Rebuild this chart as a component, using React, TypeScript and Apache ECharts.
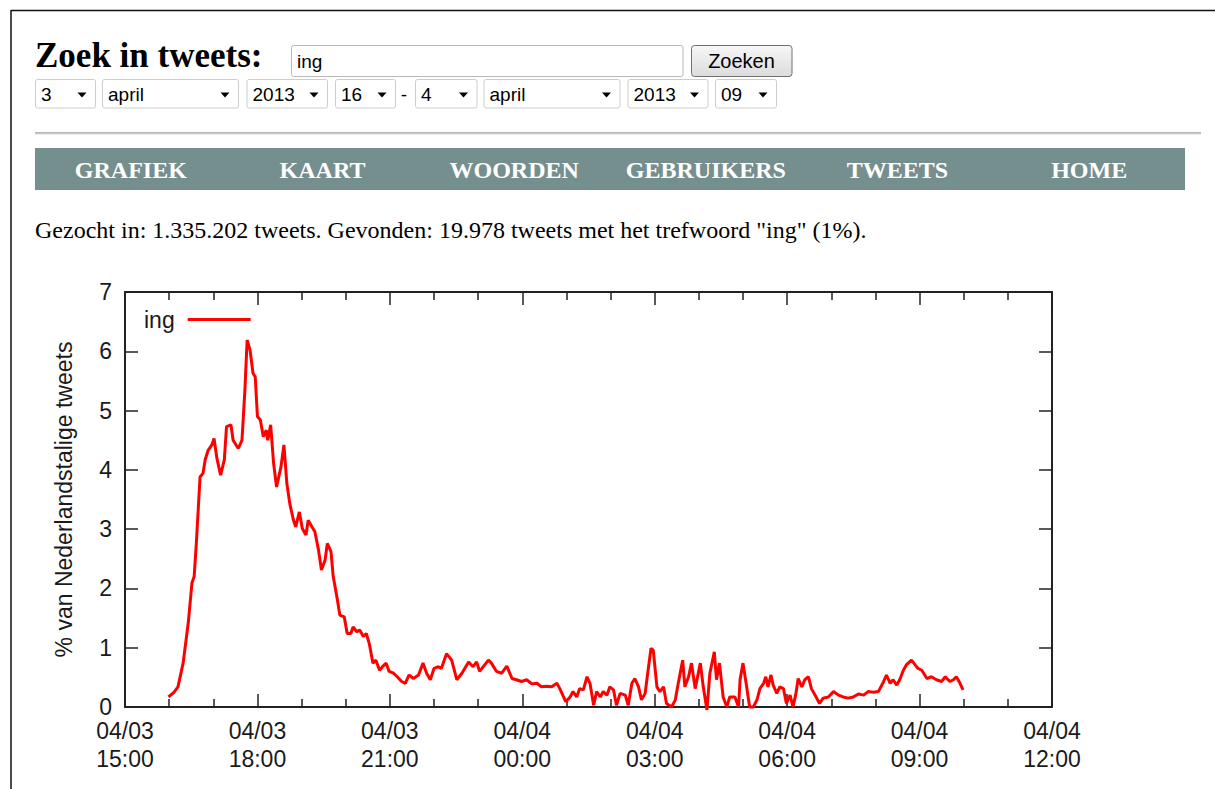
import React, { useEffect, useRef } from "react";
import * as echarts from "echarts";

// ---- data ----
const seriesName = "ing";
const times = [
  "15:59","16:06","16:12","16:19","16:26","16:31","16:34","16:37","16:42","16:46","16:49","16:53","16:58","17:01","17:05","17:10","17:15","17:18","17:24","17:27","17:34","17:39","17:43","17:46","17:50","17:54","17:57","18:00","18:04","18:08","18:12","18:14","18:18","18:22","18:26","18:32","18:36","18:40","18:44","18:49","18:52","18:57","19:01","19:06","19:09","19:14","19:18","19:23","19:27","19:32","19:35","19:40","19:43","19:48","19:52","19:58","20:02","20:07","20:10","20:15","20:19","20:24","20:28","20:32","20:37","20:41","20:46","20:50","20:55","20:59","21:05","21:10","21:16","21:21","21:26","21:32","21:39","21:45","21:50","21:55","22:00","22:06","22:10","22:17","22:24","22:31","22:38","22:47","22:53","22:58","23:02","23:07","23:14","23:18","23:25","23:32","23:39","23:46","23:52","23:59","00:06","00:13","00:20","00:26","00:33","00:40","00:47","00:51","00:59","01:05","01:09","01:14","01:18","01:23","01:28","01:32","01:37","01:41","01:46","01:50","01:55","01:59","02:04","02:08","02:13","02:20","02:24","02:29","02:33","02:38","02:42","02:47","02:51","02:55","02:58","03:03","03:07","03:12","03:16","03:23","03:28","03:32","03:38","03:41","03:46","03:50","03:55","04:02","04:06","04:11","04:15","04:21","04:24","04:28","04:33","04:38","04:42","04:49","04:54","04:56","05:00","05:05","05:09","05:14","05:19","05:23","05:28","05:31","05:34","05:38","05:41","05:46","05:50","05:55","05:59","06:04","06:08","06:12","06:15","06:20","06:24","06:29","06:33","06:38","06:44","06:49","06:56","07:03","07:10","07:16","07:23","07:30","07:37","07:44","07:50","07:57","08:04","08:10","08:15","08:20","08:24","08:29","08:33","08:38","08:42","08:49","08:54","08:58","09:03","09:10","09:16","09:23","09:30","09:35","09:41","09:46","09:50","09:55","09:59"
];
const values = [
  0.17,0.24,0.34,0.74,1.42,2.09,2.20,2.77,3.88,3.94,4.17,4.33,4.42,4.53,4.19,3.91,4.17,4.73,4.76,4.50,4.36,4.50,5.35,6.19,6.02,5.63,5.57,4.90,4.84,4.56,4.67,4.50,4.76,4.11,3.71,4.05,4.42,3.77,3.43,3.15,3.04,3.29,3.01,2.90,3.15,3.04,2.96,2.65,2.31,2.48,2.76,2.62,2.20,1.86,1.55,1.52,1.24,1.24,1.35,1.27,1.30,1.19,1.24,1.07,0.74,0.79,0.62,0.68,0.74,0.60,0.57,0.51,0.43,0.40,0.54,0.48,0.54,0.74,0.57,0.46,0.65,0.68,0.65,0.90,0.79,0.46,0.57,0.76,0.68,0.76,0.60,0.68,0.79,0.74,0.60,0.57,0.69,0.48,0.46,0.43,0.46,0.39,0.40,0.34,0.35,0.34,0.40,0.31,0.09,0.17,0.26,0.17,0.31,0.29,0.51,0.40,0.03,0.26,0.17,0.26,0.20,0.34,0.29,0.03,0.23,0.20,0.03,0.40,0.48,0.34,0.12,0.23,0.62,0.99,0.96,0.34,0.26,0.34,0.06,0.00,0.12,0.40,0.79,0.34,0.51,0.74,0.31,0.74,0.34,-0.05,0.57,0.93,0.46,0.74,0.17,0.00,0.17,0.17,0.00,0.46,0.74,0.34,0.00,0.00,0.12,0.31,0.40,0.51,0.34,0.54,0.37,0.23,0.34,0.31,0.06,0.20,0.00,0.23,0.48,0.34,0.46,0.51,0.31,0.20,0.06,0.15,0.17,0.26,0.20,0.17,0.15,0.17,0.22,0.20,0.26,0.25,0.26,0.40,0.54,0.40,0.46,0.37,0.46,0.62,0.71,0.79,0.71,0.65,0.62,0.48,0.51,0.46,0.43,0.51,0.43,0.46,0.51,0.40,0.29
];
const xTickLabels = [
  "04/03\n15:00", "04/03\n18:00", "04/03\n21:00", "04/04\n00:00",
  "04/04\n03:00", "04/04\n06:00", "04/04\n09:00", "04/04\n12:00",
];
const yAxisTitle = "% van Nederlandstalige tweets";
const pageTitle = "Zoek in tweets:";
const searchTerm = "ing";
const buttonLabel = "Zoeken";
const dateSelectLabels = ["3", "april", "2013", "16", "4", "april", "2013", "09"];
const navItems = ["GRAFIEK", "KAART", "WOORDEN", "GEBRUIKERS", "TWEETS", "HOME"];
const summaryText =
  'Gezocht in: 1.335.202 tweets. Gevonden: 19.978 tweets met het trefwoord "ing" (1%).';

// minutes since 04/03 15:00
const toMinutes = (t: string) => {
  const [h, m] = t.split(":").map(Number);
  let v = h * 60 + m - 900;
  if (v < 0) v += 1440;
  return v;
};

export default function App() {
  const ref = useRef<HTMLDivElement>(null);

  useEffect(() => {
    if (!ref.current) return;
    const chart = echarts.init(ref.current, null, { renderer: "svg" });

    const n = Math.min(times.length, values.length);
    const data: number[][] = [];
    for (let i = 0; i < n; i++) data.push([toMinutes(times[i]), values[i]]);

    const sans = "Liberation Sans";
    const serif = "Liberation Serif";
    const axisColor = "#222";
    const textColor = "#1a1a1a";

    // header layout (pixel boxes for the form controls)
    const selectBoxes = [
      [35, 95], [102, 238], [246.5, 327], [335, 395],
      [415, 476.5], [483.5, 619.5], [627.5, 707.5], [715, 776],
    ];
    const graphics: any[] = [];
    // page border
    graphics.push({ type: "line", shape: { x1: 11, y1: 10.5, x2: 1215, y2: 10.5 }, style: { stroke: "#111", lineWidth: 1.5 } });
    graphics.push({ type: "line", shape: { x1: 11, y1: 10, x2: 11, y2: 789 }, style: { stroke: "#111", lineWidth: 1.5 } });
    // title
    graphics.push({ type: "text", x: 35, y: 55, style: { text: pageTitle, font: `bold 35px "${serif}"`, fill: "#000", verticalAlign: "middle" } });
    // search input
    graphics.push({ type: "rect", shape: { x: 291.5, y: 45.5, width: 391.5, height: 31, r: 2 }, style: { fill: "#fff", stroke: "#b9b9b9", lineWidth: 1 } });
    graphics.push({ type: "text", x: 297, y: 61, style: { text: searchTerm, font: `19px "${sans}"`, fill: "#000", verticalAlign: "middle" } });
    // button
    graphics.push({
      type: "rect", shape: { x: 691.5, y: 45.5, width: 100.5, height: 31, r: 3 },
      style: {
        fill: new echarts.graphic.LinearGradient(0, 0, 0, 1, [
          { offset: 0, color: "#f7f7f7" }, { offset: 1, color: "#dcdcdc" },
        ]),
        stroke: "#707070", lineWidth: 1,
      },
    });
    graphics.push({ type: "text", x: 741.5, y: 61, style: { text: buttonLabel, font: `20px "${sans}"`, fill: "#000", align: "center", verticalAlign: "middle" } });
    // selects
    selectBoxes.forEach(([l, r], i) => {
      graphics.push({ type: "rect", shape: { x: l + 0.5, y: 79.5, width: r - l, height: 28.5, r: 2 }, style: { fill: "#fff", stroke: "#cdcdcd", lineWidth: 1 } });
      graphics.push({ type: "text", x: l + 6, y: 94, style: { text: dateSelectLabels[i], font: `19px "${sans}"`, fill: "#000", verticalAlign: "middle" } });
      const cx = r - 13;
      graphics.push({ type: "polygon", shape: { points: [[cx - 4.5, 92.5], [cx + 4.5, 92.5], [cx, 97.5]] }, style: { fill: "#000" } });
    });
    graphics.push({ type: "text", x: 404, y: 94, style: { text: "-", font: `19px "${sans}"`, fill: "#000", align: "center", verticalAlign: "middle" } });
    // horizontal rule
    graphics.push({ type: "line", shape: { x1: 35, y1: 133, x2: 1201, y2: 133 }, style: { stroke: "#6f6f6f", lineWidth: 1 } });
    graphics.push({ type: "line", shape: { x1: 35, y1: 134, x2: 1201, y2: 134 }, style: { stroke: "#d8d8d8", lineWidth: 1 } });
    // nav bar
    graphics.push({ type: "rect", shape: { x: 35, y: 148, width: 1150, height: 42 }, style: { fill: "#758f8e" } });
    const cell = 1150 / navItems.length;
    navItems.forEach((t, i) => {
      graphics.push({ type: "text", x: 35 + cell * (i + 0.5), y: 170, style: { text: t, font: `bold 24px "${serif}"`, fill: "#fff", align: "center", verticalAlign: "middle" } });
    });
    // summary line
    graphics.push({ type: "text", x: 35, y: 230, style: { text: summaryText, font: `24px "${serif}"`, fill: "#000", verticalAlign: "middle" } });

    const baseX = {
      type: "value", min: 0, max: 1260, interval: 180,
      axisLine: { show: true, onZero: false, lineStyle: { color: axisColor, width: 2 } },
      axisTick: { show: true, inside: true, length: 13, lineStyle: { color: axisColor, width: 1.5 } },
      minorTick: { show: true, splitNumber: 3, length: 8, lineStyle: { color: axisColor, width: 1.5 } },
      splitLine: { show: false },
    };
    const baseY = {
      type: "value", min: 0, max: 7, interval: 1,
      axisLine: { show: true, onZero: false, lineStyle: { color: axisColor, width: 2 } },
      axisTick: { show: true, inside: true, length: 13, lineStyle: { color: axisColor, width: 1.5 } },
      splitLine: { show: false },
    };

    chart.setOption({
      animation: false,
      backgroundColor: "#fff",
      textStyle: { fontFamily: sans },
      graphic: { elements: graphics },
      grid: { left: 125, right: 163, top: 292, bottom: 82, containLabel: false, outerBoundsMode: "none" },
      legend: {
        show: true, left: 139, top: 303, align: "right", icon: "rect",
        itemWidth: 63, itemHeight: 3, selectedMode: false,
        data: [seriesName],
        textStyle: { fontSize: 23, color: textColor, fontFamily: sans, padding: [0, 8, 0, 0] },
      },
      xAxis: [
        {
          ...baseX, position: "bottom",
          axisLabel: {
            show: true, showMinLabel: true, showMaxLabel: true, margin: 10,
            fontSize: 23, lineHeight: 28, color: textColor, fontFamily: sans,
            formatter: (v: number) => xTickLabels[Math.round(v / 180)] ?? "",
          },
        },
        { ...baseX, position: "top", axisLabel: { show: false } },
      ],
      yAxis: [
        {
          ...baseY, position: "left",
          axisLabel: { show: true, margin: 13, fontSize: 23, lineHeight: 16, color: textColor, fontFamily: sans },
          name: yAxisTitle, nameLocation: "middle", nameGap: 50,
          nameTextStyle: { fontSize: 23, color: textColor, fontFamily: sans },
        },
        { ...baseY, position: "right", axisLabel: { show: false } },
      ],
      series: [
        {
          name: seriesName, type: "line", data, xAxisIndex: 0, yAxisIndex: 0,
          showSymbol: false, symbol: "none", clip: false,
          lineStyle: { color: "#ff0000", width: 3 }, itemStyle: { color: "#ff0000" },
        },
      ],
    });

    return () => chart.dispose();
  }, []);

  return (
    <div
      ref={ref}
      style={{ position: "fixed", left: 0, top: 0, width: 1215, height: 789, background: "#fff" }}
    />
  );
}
